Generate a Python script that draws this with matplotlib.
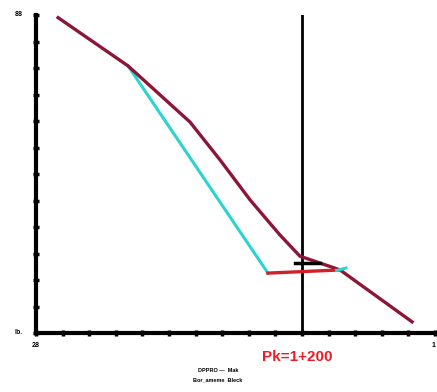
import matplotlib
matplotlib.use('Agg')
import matplotlib.pyplot as plt

plt.rcParams['font.family'] = ['Liberation Sans', 'DejaVu Sans']

# profile data (chainage index vs level index)
main_x = [0.83, 3.46, 5.79, 6.92, 8.05, 9.17, 9.92, 11.43, 14.14]
main_y = [11.9, 10.08, 7.96, 6.53, 5.02, 3.70, 2.90, 2.38, 0.42]
cut_x = [3.46, 8.72]
cut_y = [10.08, 2.26]
flat_x = [8.72, 11.43]
flat_y = [2.26, 2.38]
stub_x = [11.30, 11.65]
stub_y = [2.36, 2.45]
mark_x = [9.74, 10.68]
mark_y = [2.64, 2.64]
station = 10
station_label = 'Pk=1+200'
x_labels = ['28', '1']
y_labels = ['lb.', '88']
legend_lines = ['DPPRO \u2014  Mak', 'Bor_ameme  Bleck']

fig = plt.figure(figsize=(4.37, 3.92), dpi=100)
ax = fig.add_axes([36 / 437, 59 / 392, 399 / 437, 318 / 392])

ax.plot(cut_x, cut_y, color='#2ad4d0', lw=2.2, zorder=2)
ax.plot(main_x, main_y, color='#8c1638', lw=2.4, zorder=3)
ax.plot(flat_x, flat_y, color='#d0202a', lw=2.4, zorder=4)
ax.plot(stub_x, stub_y, color='#2ad4d0', lw=2.2, zorder=4)
ax.plot(mark_x, mark_y, color='black', lw=2.5, zorder=5)
ax.axvline(station, color='black', lw=2, zorder=1)

ax.set_xlim(0, 15)
ax.set_ylim(0, 12)
ax.set_xticks(range(16))
ax.set_yticks(range(13))
ax.set_xticklabels([])
ax.set_yticklabels([])
ax.tick_params(direction='inout', length=5, width=2.5, color='black')
for s in ['top', 'right']:
    ax.spines[s].set_visible(False)
for s in ['left', 'bottom']:
    ax.spines[s].set_linewidth(3)

# end labels
ax.text(-0.5, 12, y_labels[1], ha='right', va='center', fontsize=5, fontweight='bold')
ax.text(-0.5, 0, y_labels[0], ha='right', va='center', fontsize=5, fontweight='bold')
ax.text(0, -0.35, x_labels[0], ha='center', va='top', fontsize=5, fontweight='bold')
ax.text(15, -0.35, x_labels[1], ha='right', va='top', fontsize=5, fontweight='bold')

fig.text(297 / 437, 1 - 357 / 392, station_label, color='#ee1c24', fontsize=11,
         fontweight='bold', ha='center', va='center')
fig.text(218 / 437, 1 - 371 / 392, legend_lines[0], fontsize=4, fontweight='bold',
         ha='center', va='center')
fig.text(218 / 437, 1 - 380 / 392, legend_lines[1], fontsize=4, fontweight='bold',
         ha='center', va='center')

fig.savefig('out.png', dpi=100)
